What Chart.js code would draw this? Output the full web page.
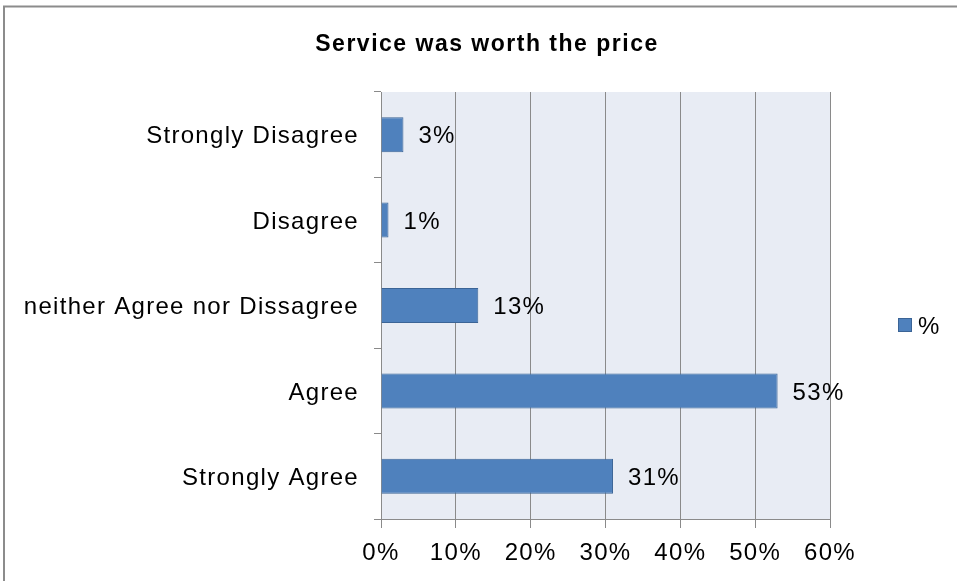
<!DOCTYPE html>
<html>
<head>
<meta charset="utf-8">
<style>
  html, body { margin: 0; padding: 0; background: #ffffff; }
  #wrap { width: 957px; height: 581px; position: relative; }
</style>
<script src="https://cdn.jsdelivr.net/npm/chart.js@4/dist/chart.umd.min.js"></script>
</head>
<body>
<div id="wrap"><canvas id="c" width="957" height="581"></canvas></div>
<script>
// Survey answers, one bar per answer (percent of respondents)
const categories = ['Strongly Disagree', 'Disagree', 'neither Agree nor Dissagree', 'Agree', 'Strongly Agree'];
const values = [3, 1, 13, 53, 31];
const seriesName = '%';
const xTicks = [0, 10, 20, 30, 40, 50, 60];
const titleText = 'Service was worth the price';

const FONT = '"Liberation Sans", Arial, Helvetica, sans-serif';
const BAR_FILL = '#4F81BD';
const BAR_EDGE = '#3B6496';
const GRID = '#8A8A8A';
const LS = '1.3px';

// Slightly wider letter spacing, like the office-style rendering
const spacing = {
  id: 'spacing',
  beforeUpdate(chart) { chart.ctx.letterSpacing = LS; },
  beforeDraw(chart) { chart.ctx.letterSpacing = LS; }
};

// Frame, plot background and title
const frame = {
  id: 'frame',
  beforeDraw(chart) {
    const { ctx, chartArea: a } = chart;
    ctx.save();
    ctx.strokeStyle = '#8C8C8C';
    ctx.lineWidth = 2;
    ctx.strokeRect(4, 6.5, 2000, 2000);
    ctx.fillStyle = '#E8ECF4';
    ctx.fillRect(a.left, a.top, a.right - a.left, a.bottom - a.top);
    ctx.fillStyle = '#000';
    ctx.font = 'bold 23px ' + FONT;
    ctx.letterSpacing = '1.5px';
    ctx.textAlign = 'center';
    ctx.textBaseline = 'middle';
    ctx.fillText(titleText, 487, 45);
    ctx.restore();
  }
};

// Value labels at bar ends, and the legend on the right
const labels = {
  id: 'labels',
  afterDatasetsDraw(chart) {
    const { ctx } = chart;
    const meta = chart.getDatasetMeta(0);
    ctx.save();
    ctx.letterSpacing = LS;
    ctx.font = '24px ' + FONT;
    ctx.fillStyle = '#000';
    ctx.textAlign = 'left';
    ctx.textBaseline = 'middle';
    meta.data.forEach((bar, i) => {
      ctx.fillText(values[i] + '%', bar.x + 15, bar.y + 2);
    });
    // legend
    ctx.fillStyle = BAR_FILL;
    ctx.strokeStyle = BAR_EDGE;
    ctx.lineWidth = 1;
    ctx.fillRect(898, 318, 14, 14);
    ctx.strokeRect(898.5, 318.5, 13, 13);
    ctx.fillStyle = '#000';
    ctx.fillText(seriesName, 918, 327);
    ctx.restore();
  }
};

new Chart(document.getElementById('c'), {
  type: 'bar',
  data: {
    labels: categories,
    datasets: [{
      label: seriesName,
      data: values,
      backgroundColor: BAR_FILL,
      borderColor: BAR_EDGE,
      borderWidth: 1,
      barPercentage: 0.41,
      categoryPercentage: 1.0
    }]
  },
  options: {
    indexAxis: 'y',
    responsive: false,
    animation: false,
    devicePixelRatio: 1,
    layout: { padding: { top: 92, right: 127, bottom: 0, left: 0 } },
    plugins: {
      legend: { display: false },
      title: { display: false },
      tooltip: { enabled: false }
    },
    scales: {
      x: {
        type: 'linear',
        min: 0,
        max: 60,
        afterBuildTicks(scale) { scale.ticks = xTicks.map(v => ({ value: v })); },
        afterFit(scale) { scale.height = 62; },
        grid: {
          color: GRID,
          lineWidth: 1,
          tickLength: 9,
          drawTicks: true
        },
        border: { display: true, color: GRID, width: 1 },
        ticks: {
          padding: 11,
          color: '#000',
          font: { family: FONT, size: 24 },
          maxRotation: 0,
          callback: v => v + '%'
        }
      },
      y: {
        type: 'category',
        offset: true,
        afterFit(scale) { scale.width = 381; },
        grid: {
          offset: true,
          drawOnChartArea: false,
          color: GRID,
          tickLength: 7
        },
        border: { display: true, color: GRID, width: 1 },
        ticks: {
          padding: 15,
          labelOffset: 2,
          color: '#000',
          font: { family: FONT, size: 24 }
        }
      }
    }
  },
  plugins: [spacing, frame, labels]
});
</script>
</body>
</html>
